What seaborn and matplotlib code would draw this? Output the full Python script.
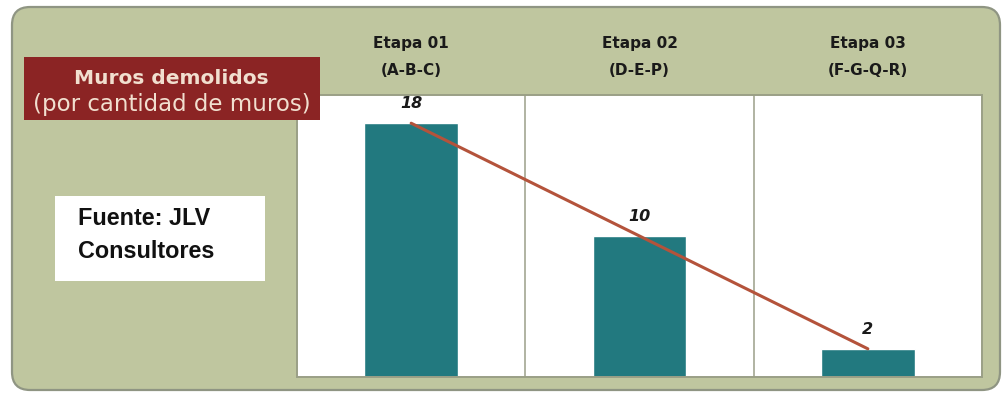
import matplotlib
matplotlib.use("Agg")
import matplotlib.pyplot as plt
from matplotlib.patches import FancyBboxPatch, Rectangle
import seaborn as sns
import pandas as pd

# Data
etapas = ["Etapa 01\n(A-B-C)", "Etapa 02\n(D-E-P)", "Etapa 03\n(F-G-Q-R)"]
muros = [18, 10, 2]

sns.set_theme(style="white")
plt.rcParams["font.family"] = ["DejaVu Sans"]

W, H = 1005, 394
fig = plt.figure(figsize=(W / 100, H / 100), dpi=100)
fig.patch.set_facecolor("white")

def fx(px):
    return px / W

def fy(py):
    return 1 - py / H

# Rounded olive panel behind everything
panel = FancyBboxPatch((fx(12), fy(390)), fx(1000) - fx(12), fy(7) - fy(390),
                       boxstyle="round,pad=0,rounding_size=0.018",
                       transform=fig.transFigure, facecolor="#bfc69f",
                       edgecolor="#8f9583", linewidth=1.6, zorder=-5,
                       mutation_aspect=W / H)
fig.patches.append(panel)

# Plot area
ax = fig.add_axes([fx(297), fy(377), fx(982) - fx(297), fy(95) - fy(377)])
ax.set_zorder(1)
ax.set_facecolor("white")

df = pd.DataFrame({"etapa": etapas, "muros": muros})
sns.barplot(data=df, x="etapa", y="muros", color="#22797f", width=0.41,
            saturation=1, ax=ax, zorder=2)

# Trend line joining the bar tops
ax.plot(range(len(muros)), muros, color="#b4533b", linewidth=2.2, zorder=3)

# Value labels
for i, v in enumerate(muros):
    ax.text(i, v + 1.4, str(v), ha="center", va="center", fontsize=11.5,
            fontweight="bold", fontstyle="italic", color="#1a1a1a", zorder=4)

# Column separators
for xs in [0.5, 1.5]:
    ax.axvline(xs, color="#a3a792", linewidth=1.2, zorder=1)

ax.set_xlim(-0.5, len(muros) - 0.5)
ax.set_ylim(0, 20)
ax.set_yticks([])
ax.set_xlabel("")
ax.set_ylabel("")
ax.xaxis.tick_top()
ax.tick_params(axis="x", length=0, pad=12, labelsize=11, labelcolor="#1a1a1a")
for lab in ax.get_xticklabels():
    lab.set_fontweight("bold")
    lab.set_linespacing(2.05)
for s in ax.spines.values():
    s.set_color("#9a9f86")
    s.set_linewidth(1.4)

# Title box
fig.add_artist(Rectangle((fx(24), fy(120)), fx(320) - fx(24), fy(57) - fy(120),
                         transform=fig.transFigure, facecolor="#8b2424",
                         edgecolor="none", zorder=5))
fig.text(fx(171), fy(78), "Muros demolidos", ha="center", va="center",
         fontsize=14.5, fontweight="bold", color="#f1dfcf", zorder=6)
fig.text(fx(172), fy(104), "(por cantidad de muros)", ha="center", va="center",
         fontsize=16.5, color="#f1dfcf", zorder=6)

# Source box
fig.add_artist(Rectangle((fx(55), fy(281)), fx(265) - fx(55), fy(196) - fy(281),
                         transform=fig.transFigure, facecolor="white",
                         edgecolor="none", zorder=5))
fig.text(fx(78), fy(235), "Fuente: JLV\nConsultores", ha="left", va="center",
         fontsize=16.8, fontweight="bold", color="#111111",
         family=["Liberation Sans", "DejaVu Sans"], linespacing=1.55, zorder=6)

fig.savefig("out.png", dpi=100, facecolor="white")
